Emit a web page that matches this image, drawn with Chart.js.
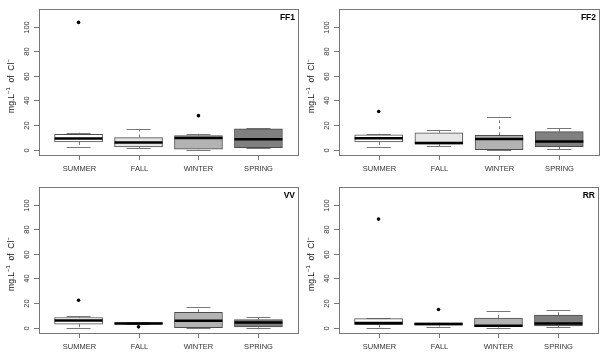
<!DOCTYPE html>
<html>
<head>
<meta charset="utf-8">
<script src="https://cdn.jsdelivr.net/npm/chart.js@4/dist/chart.umd.min.js"></script>
<style>
html,body{margin:0;padding:0;background:#fff;}
#wrap{position:relative;width:606px;height:360px;overflow:hidden;}
.cv{position:absolute;width:303px;height:180px;}
</style>
</head>
<body>
<div id="wrap">
<canvas id="c0" class="cv" width="303" height="180" style="left:0;top:0"></canvas>
<canvas id="c1" class="cv" width="303" height="180" style="left:303px;top:0"></canvas>
<canvas id="c2" class="cv" width="303" height="180" style="left:0;top:180px"></canvas>
<canvas id="c3" class="cv" width="303" height="180" style="left:303px;top:180px"></canvas>
</div>
<script>
// ---- data ----
const categories = ['SUMMER', 'FALL', 'WINTER', 'SPRING'];
const sites = ['FF1', 'FF2', 'VV', 'RR'];
const yTicks = [0, 20, 40, 60, 80, 100];
// per site, per season
const whiskerLow = [[2, 1.5, 0, 1.5], [2, 2.8, 0, 0.3], [0, 2.8, 0, 0], [0, 0.8, 0, 0.6]];
const quart1 =     [[6.3, 2.2, 0.3, 1.6], [6.3, 4.4, 0, 2.4], [2.8, 2.8, 0, 0.6], [2.4, 1.9, 0.8, 1.4]];
const medians =    [[9, 5.7, 9.5, 8.4], [9.3, 5.4, 8.7, 6.5], [5.7, 3.3, 5.5, 4.1], [3.8, 3, 1.6, 3.3]];
const quart3 =     [[12.5, 9.8, 11.4, 16.8], [12, 13.6, 11.7, 14.6], [8.2, 4.1, 12.5, 6.5], [7.3, 3.8, 7.7, 10.1]];
const whiskerHigh =[[13.8, 16.6, 12.8, 17.4], [12.8, 16.3, 26.8, 17.4], [9.3, 4.4, 16.6, 8.5], [7.5, 4, 13.4, 14.7]];
const outlierSeason = [[1, 3], [1], [1, 2], [1, 2]];
const outlierValue =  [[103.5, 27.6], [31], [22.3, 0.6], [88.3, 14.7]];

// ---- styles ----
const fills = ['#ffffff', '#e6e6e6', '#b3b3b3', '#808080'];
const paddings = [
  {left: 39, right: 5, top: 9, bottom: 25},
  {left: 36, right: 7, top: 9, bottom: 25},
  {left: 39, right: 5, top: 7, bottom: 27},
  {left: 36, right: 8, top: 7, bottom: 27}
];
const FONT = '"Liberation Sans", Arial, sans-serif';

function makeChart(k) {
  const boxData = categories.map((c, i) => ({x: i + 1, y: [quart1[k][i], quart3[k][i]]}));
  const outData = outlierSeason[k].map((s, j) => ({x: s, y: outlierValue[k][j]}));

  const boxPlugin = {
    id: 'boxplot' + k,
    beforeDatasetsDraw(chart) {
      const ctx = chart.ctx, xs = chart.scales.x, ys = chart.scales.y;
      ctx.save();
      categories.forEach((c, i) => {
        const cx = Math.round(xs.getPixelForValue(i + 1)) + 0.5;
        const sl = xs.getPixelForValue(i + 1 - 0.2), sr = xs.getPixelForValue(i + 1 + 0.2);
        const pairs = [[quart3[k][i], whiskerHigh[k][i]], [quart1[k][i], whiskerLow[k][i]]];
        pairs.forEach(([a, b]) => {
          const ya = ys.getPixelForValue(a), yb = ys.getPixelForValue(b);
          ctx.strokeStyle = '#777';
          ctx.lineWidth = 1;
          ctx.setLineDash([3, 3]);
          ctx.beginPath(); ctx.moveTo(cx, ya); ctx.lineTo(cx, yb); ctx.stroke();
          ctx.setLineDash([]);
          const yy = Math.round(yb) + 0.5;
          ctx.beginPath(); ctx.moveTo(sl, yy); ctx.lineTo(sr, yy); ctx.stroke();
        });
      });
      ctx.restore();
    },
    afterDatasetsDraw(chart) {
      const ctx = chart.ctx, xs = chart.scales.x, ys = chart.scales.y;
      ctx.save();
      categories.forEach((c, i) => {
        const l = xs.getPixelForValue(i + 1 - 0.4), r = xs.getPixelForValue(i + 1 + 0.4);
        const ym = ys.getPixelForValue(medians[k][i]);
        ctx.strokeStyle = '#000';
        ctx.lineWidth = 2.5;
        ctx.beginPath(); ctx.moveTo(l, ym); ctx.lineTo(r, ym); ctx.stroke();
      });
      ctx.restore();
    },
    afterDraw(chart) {
      const ctx = chart.ctx, xs = chart.scales.x, ys = chart.scales.y, a = chart.chartArea;
      ctx.save();
      ctx.strokeStyle = '#777';
      ctx.lineWidth = 1;
      ctx.strokeRect(Math.round(a.left) + 0.5, Math.round(a.top) + 0.5, Math.round(a.right - a.left), Math.round(a.bottom - a.top));
      ctx.fillStyle = '#333';
      ctx.font = '7.5px ' + FONT;
      yTicks.forEach(v => {
        const y = Math.round(ys.getPixelForValue(v)) + 0.5;
        ctx.beginPath(); ctx.moveTo(a.left - 5, y); ctx.lineTo(a.left, y); ctx.stroke();
        ctx.save();
        ctx.translate(a.left - 12, y);
        ctx.rotate(-Math.PI / 2);
        ctx.textAlign = 'center';
        ctx.textBaseline = 'middle';
        ctx.fillText(String(v), 0, 0);
        ctx.restore();
      });
      categories.forEach((c, i) => {
        const x = Math.round(xs.getPixelForValue(i + 1)) + 0.5;
        ctx.beginPath(); ctx.moveTo(x, a.bottom); ctx.lineTo(x, a.bottom + 5); ctx.stroke();
        ctx.textAlign = 'center';
        ctx.textBaseline = 'middle';
        ctx.fillText(c, x, a.bottom + 14);
      });
      ctx.save();
      ctx.translate(a.left - 27, (a.top + a.bottom) / 2 + 4);
      ctx.rotate(-Math.PI / 2);
      ctx.fillStyle = '#111';
      const big = '8.5px ' + FONT, small = '6px ' + FONT;
      const parts = [['mg.L', big, 0], ['\u22121', small, -4], ['  of  Cl', big, 0], ['\u2212', small, -4]];
      let total = 0;
      parts.forEach(p => { ctx.font = p[1]; total += ctx.measureText(p[0]).width; });
      let x0 = -total / 2;
      ctx.textBaseline = 'middle';
      ctx.textAlign = 'left';
      parts.forEach(p => { ctx.font = p[1]; ctx.fillText(p[0], x0, p[2]); x0 += ctx.measureText(p[0]).width; });
      ctx.restore();
      ctx.fillStyle = '#000';
      ctx.font = 'bold 8.5px ' + FONT;
      ctx.textAlign = 'right';
      ctx.textBaseline = 'top';
      ctx.fillText(sites[k], a.right - 3, a.top + 4);
      ctx.restore();
    }
  };

  return new Chart(document.getElementById('c' + k), {
    type: 'bar',
    data: {
      datasets: [
        {
          type: 'bar',
          data: boxData,
          backgroundColor: fills,
          borderColor: '#4d4d4d',
          borderWidth: 1,
          borderSkipped: false,
          barThickness: 48,
          order: 2
        },
        {
          type: 'scatter',
          data: outData,
          backgroundColor: '#000',
          borderColor: '#000',
          pointRadius: 1.8,
          pointBorderWidth: 0,
          order: 1
        }
      ]
    },
    options: {
      responsive: false,
      animation: false,
      devicePixelRatio: 1,
      layout: {padding: paddings[k]},
      plugins: {legend: {display: false}, tooltip: {enabled: false}},
      scales: {
        x: {type: 'linear', min: 0.34, max: 4.66, offset: false, grid: {offset: false}, display: false},
        y: {type: 'linear', min: -4.4, max: 114.4, display: false}
      }
    },
    plugins: [boxPlugin]
  });
}
sites.forEach((s, k) => makeChart(k));
</script>
</body>
</html>
